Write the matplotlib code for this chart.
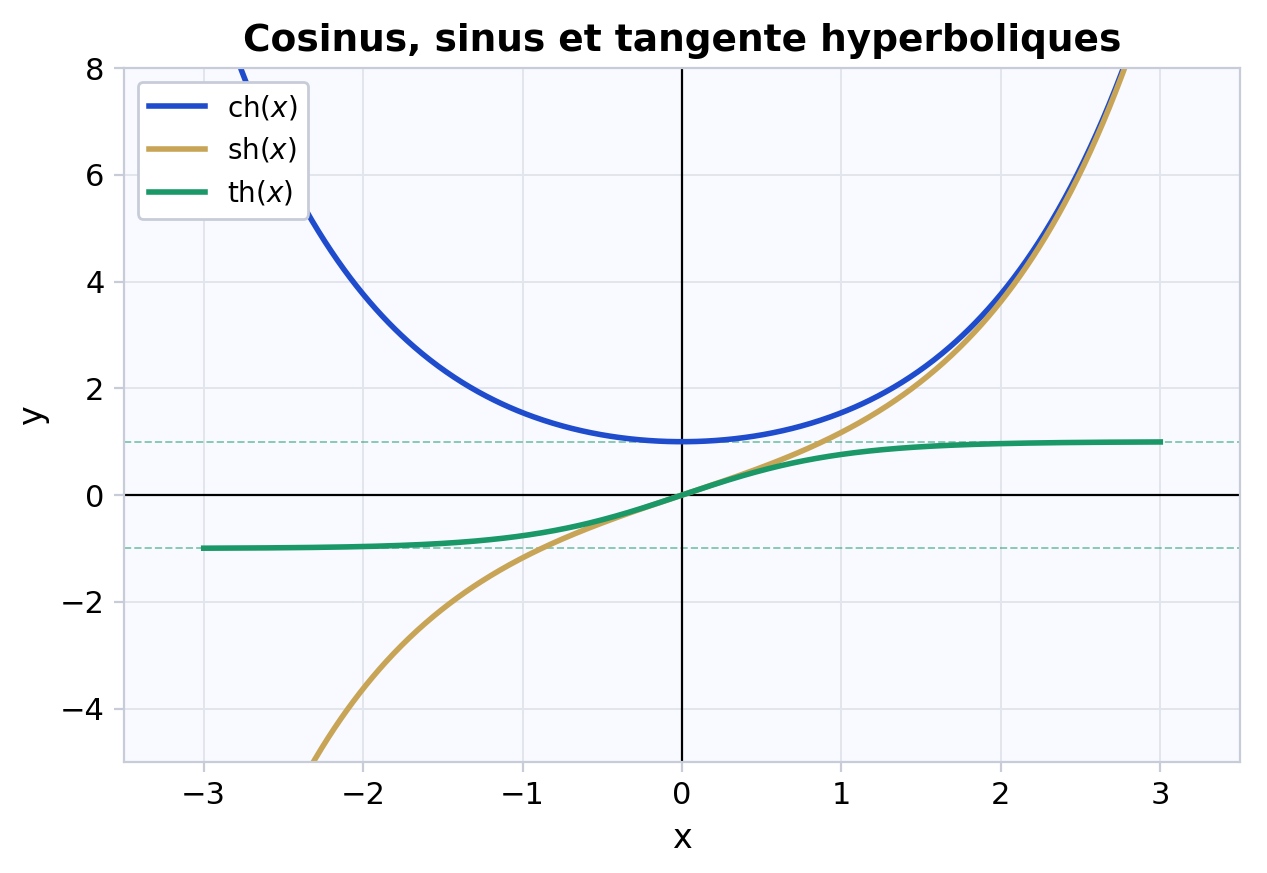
import numpy as np
import matplotlib
matplotlib.use("Agg")
import matplotlib.pyplot as plt

x = np.linspace(-3, 3, 601)
labels = [r"ch$(x)$", r"sh$(x)$", r"th$(x)$"]
colors = ["#1f4ccc", "#c8a556", "#1a9868"]
series = [np.cosh(x), np.sinh(x), np.tanh(x)]
asymptotes = [1, -1]

fig = plt.figure(figsize=(6.335, 4.365), dpi=200)
ax = fig.add_axes([124/1267, 1-762/873, (1240-124)/1267, (762-68)/873])
ax.set_facecolor("#f8faff")
for s in ax.spines.values():
    s.set_color("#c8ccd8")
ax.grid(True, color="#e2e5ec", linewidth=0.7)
ax.set_axisbelow(True)
for a in asymptotes:
    ax.axhline(a, color="#1a9868", alpha=0.5, linestyle="--", linewidth=0.7)
ax.axhline(0, color="black", linewidth=0.8)
ax.axvline(0, color="black", linewidth=0.8)
for y, l, c in zip(series, labels, colors):
    ax.plot(x, y, color=c, linewidth=2, label=l)
ax.set_xlim(-3.5, 3.5)
ax.set_ylim(-5, 8)
ax.set_xticks([-3, -2, -1, 0, 1, 2, 3])
ax.set_yticks([-4, -2, 0, 2, 4, 6, 8])
ax.tick_params(labelsize=11, color="#c8ccd8")
ax.set_xlabel("x", fontsize=12)
ax.set_ylabel("y", fontsize=12)
ax.set_title("Cosinus, sinus et tangente hyperboliques", fontsize=13.5, fontweight="bold")
leg = ax.legend(loc="upper left", fontsize=10, framealpha=1, edgecolor="#c8ccd8", fancybox=True)
fig.savefig("out.png", dpi=200)
